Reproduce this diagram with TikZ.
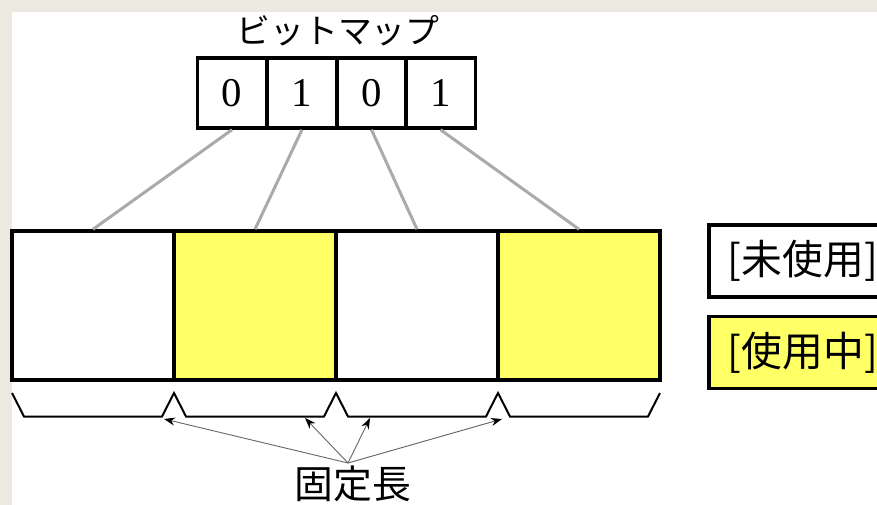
\documentclass[tikz,border=0pt]{standalone}
\usepackage{fontspec}
\setmainfont{Liberation Serif}
\newfontfamily\jp{Noto Sans CJK JP}
\usetikzlibrary{arrows.meta}
\definecolor{bgbeige}{HTML}{ECE9E0}
\definecolor{useyellow}{HTML}{FFFF66}
\definecolor{linkgray}{HTML}{AAAAAA}
\definecolor{arrgray}{HTML}{666666}
\tikzset{
  blockbox/.style={draw=black, line width=3.5bp, minimum width=162bp, minimum height=149bp, inner sep=0pt},
  bitcell/.style={draw=black, line width=3.5bp, minimum width=69.5bp, minimum height=70bp, inner sep=0pt,
    font=\fontsize{41}{44}\selectfont},
  linkline/.style={draw=linkgray, line width=3bp},
  legendbox/.style={draw=black, line width=3.5bp, minimum height=72bp, minimum width=200bp, inner xsep=19bp,
    anchor=west, align=left, font=\jp\fontsize{41}{44}\selectfont},
  bracebar/.style={draw=black, line width=2bp, line join=miter},
  pointer/.style={draw=arrgray, line width=0.9bp, -{Stealth[length=11bp, width=8bp, color=black, fill=black]}},
  jplabel/.style={font=\jp\fontsize{39}{42}\selectfont, inner sep=0pt}
}
\begin{document}
\begin{tikzpicture}[x=1bp, y=-1bp]
\useasboundingbox (0,0) rectangle (877,505);
\clip (0,0) rectangle (877,505);
\fill[bgbeige] (0,0) rectangle (877,505);
\fill[white] (12,12) rectangle (877,505);

% title
\node[jplabel, font=\jp\fontsize{34}{37}\selectfont] (title) at (338,31) {ビットマップ};

% bitmap cells
\node[bitcell] (c1) at (232,93) {0};
\node[bitcell] (c2) at (302,93) {1};
\node[bitcell] (c3) at (371.5,93) {0};
\node[bitcell] (c4) at (440.5,93) {1};

% memory blocks
\node[blockbox, fill=white] (b1) at (93,305.5) {};
\node[blockbox, fill=useyellow] (b2) at (255,305.5) {};
\node[blockbox, fill=white] (b3) at (417,305.5) {};
\node[blockbox, fill=useyellow] (b4) at (579,305.5) {};

% links
\draw[linkline] (c1.south) -- (b1.north);
\draw[linkline] (c2.south) -- (b2.north);
\draw[linkline] (c3.south) -- (b3.north);
\draw[linkline] (c4.south) -- (b4.north);

% legend
\node[legendbox, fill=white] (unused) at (707,261) {[未使用]\hspace{30bp}};
\node[legendbox, fill=useyellow] (inuse) at (707,352.5) {[使用中]\hspace{30bp}};

% braces
\draw[bracebar] (12,393) -- (24,416.5) -- (162,416.5) -- (174,393) -- (186,416.5)
  -- (324,416.5) -- (336,393) -- (348,416.5) -- (486,416.5) -- (498,393)
  -- (510,416.5) -- (648,416.5) -- (660,393);

% label and pointers
\node[jplabel] (fixed) at (353,484) {固定長};
\coordinate (conv) at (348,463);
\coordinate (t1) at (164,419);
\coordinate (t2) at (305,418);
\coordinate (t3) at (370,418);
\coordinate (t4) at (502,419);
\draw[pointer] (conv) -- (t1);
\draw[pointer] (conv) -- (t2);
\draw[pointer] (conv) -- (t3);
\draw[pointer] (conv) -- (t4);
\end{tikzpicture}
\end{document}
